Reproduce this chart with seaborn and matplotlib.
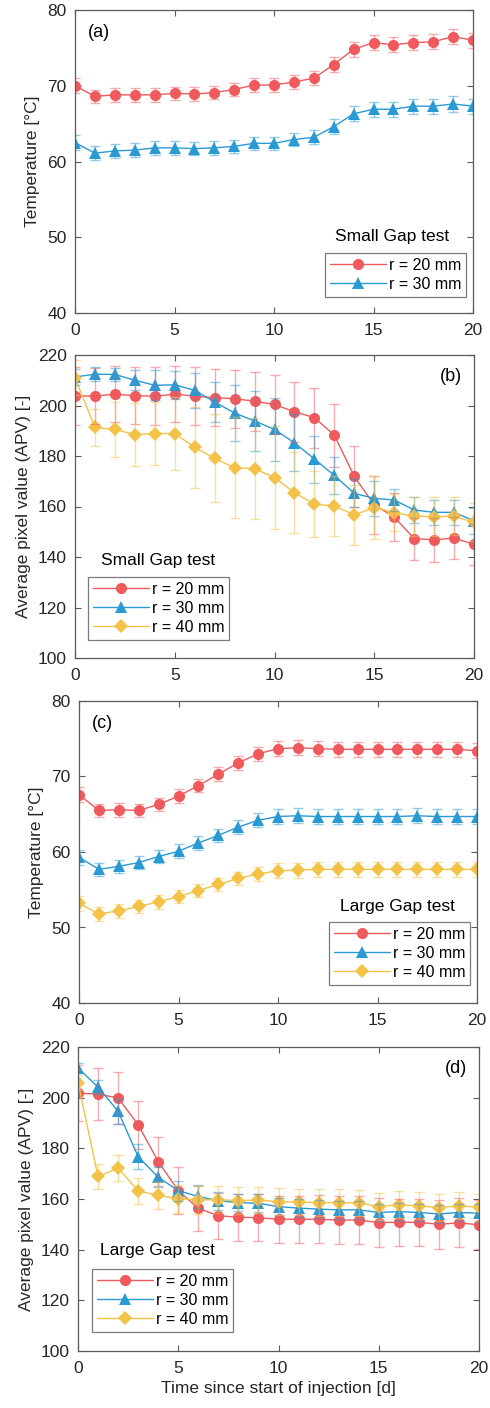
import pandas as pd
import matplotlib.pyplot as plt
import seaborn as sns

# ---- data ----
days = list(range(21))
series_names = ['r = 20 mm', 'r = 30 mm', 'r = 40 mm']

# (a) temperature, small gap test
a_r20 = [70.0, 68.6, 68.8, 68.8, 68.8, 69.0, 68.9, 69.1, 69.5, 70.1, 70.1,
         70.5, 71.0, 72.8, 74.8, 75.7, 75.4, 75.7, 75.8, 76.5, 76.0]
a_r20_err = [1.0, 0.9, 0.9, 0.9, 0.9, 0.9, 0.9, 0.9, 0.9, 0.9, 0.9,
             0.9, 0.9, 1.0, 1.0, 1.0, 1.0, 1.0, 1.0, 1.0, 1.0]
a_r30 = [62.5, 61.1, 61.4, 61.5, 61.8, 61.8, 61.7, 61.8, 62.0, 62.4, 62.4,
         62.9, 63.2, 64.6, 66.3, 66.9, 66.9, 67.3, 67.3, 67.6, 67.3]
a_r30_err = [1.0, 0.9, 0.9, 0.9, 0.9, 0.9, 0.9, 0.9, 0.9, 0.9, 0.9,
             0.9, 0.9, 1.0, 1.0, 1.0, 1.0, 1.0, 1.0, 1.0, 1.0]

# (b) average pixel value, small gap test
b_r20 = [203.8, 203.7, 204.5, 203.9, 203.7, 204.5, 203.7, 203.1, 202.7, 201.7, 200.4,
         197.5, 195.2, 188.2, 171.9, 160.6, 155.8, 147.3, 146.8, 147.5, 145.0]
b_r20_err = [11.4, 11.1, 11.1, 11.4, 11.5, 11.1, 11.4, 11.3, 11.5, 11.7, 11.8,
             11.8, 11.9, 12.5, 12.1, 11.4, 9.4, 8.3, 8.6, 8.3, 8.2]
b_r30 = [211.3, 212.4, 212.3, 210.0, 208.0, 208.2, 206.0, 201.4, 197.0, 193.9, 190.5,
         185.2, 178.8, 172.3, 165.2, 163.2, 162.6, 158.6, 157.7, 157.7, 154.3]
b_r30_err = [3.0, 2.7, 2.7, 4.0, 6.0, 5.6, 7.0, 8.0, 11.0, 12.0, 12.5,
             11.3, 9.3, 7.5, 5.5, 7.0, 4.5, 5.0, 5.0, 5.0, 5.0]
b_r40 = [211.0, 191.3, 190.5, 188.5, 188.9, 188.9, 183.4, 179.1, 175.3, 175.0, 171.4,
         165.5, 160.9, 160.2, 156.7, 159.6, 157.6, 156.1, 156.0, 156.1, 153.7]
b_r40_err = [7.0, 7.2, 10.9, 12.6, 12.4, 14.6, 16.0, 17.4, 20.0, 20.0, 20.3,
             16.0, 13.0, 12.0, 11.9, 12.6, 7.5, 7.6, 7.6, 7.5, 7.5]

# (c) temperature, large gap test
c_r20 = [67.6, 65.5, 65.6, 65.5, 66.3, 67.4, 68.8, 70.3, 71.8, 73.0, 73.7,
         73.8, 73.7, 73.6, 73.6, 73.6, 73.6, 73.6, 73.6, 73.6, 73.4]
c_r20_err = [1.0, 0.9, 0.9, 0.9, 0.9, 0.9, 0.9, 0.9, 0.9, 0.9, 1.0,
             1.0, 1.0, 1.0, 1.0, 1.0, 1.0, 1.0, 1.0, 1.0, 1.0]
c_r30 = [59.3, 57.7, 58.1, 58.6, 59.4, 60.1, 61.2, 62.2, 63.3, 64.2, 64.7,
         64.8, 64.7, 64.7, 64.7, 64.7, 64.7, 64.8, 64.7, 64.7, 64.7]
c_r30_err = [1.0, 0.9, 0.9, 0.9, 0.9, 0.9, 0.9, 0.9, 0.9, 0.9, 1.0,
             1.0, 1.0, 1.0, 1.0, 1.0, 1.0, 1.0, 1.0, 1.0, 1.0]
c_r40 = [53.2, 51.8, 52.2, 52.8, 53.4, 54.1, 54.9, 55.7, 56.5, 57.1, 57.5,
         57.6, 57.7, 57.7, 57.7, 57.7, 57.7, 57.7, 57.7, 57.7, 57.7]
c_r40_err = [1.0, 0.9, 0.9, 0.9, 0.9, 0.9, 0.9, 0.9, 0.9, 0.9, 1.0,
             1.0, 1.0, 1.0, 1.0, 1.0, 1.0, 1.0, 1.0, 1.0, 1.0]

# (d) average pixel value, large gap test
d_r20 = [201.8, 201.4, 199.9, 189.3, 174.8, 163.3, 156.3, 153.4, 152.8, 152.6, 152.0,
         152.0, 152.0, 151.7, 151.7, 150.7, 150.8, 150.8, 150.0, 150.6, 149.8]
d_r20_err = [11.2, 10.4, 10.1, 9.5, 9.6, 9.4, 9.0, 9.1, 9.3, 9.3, 9.2,
             9.2, 9.4, 9.4, 9.4, 9.5, 9.3, 9.3, 9.6, 9.6, 9.7]
d_r30 = [211.7, 204.2, 194.6, 176.7, 168.6, 163.3, 161.0, 159.3, 158.6, 158.3, 157.0,
         156.4, 156.0, 155.7, 155.7, 154.7, 155.0, 154.7, 154.1, 154.7, 154.4]
d_r30_err = [2.0, 2.8, 5.0, 5.0, 4.0, 4.0, 4.5, 3.5, 3.5, 3.5, 3.5,
             3.5, 3.5, 3.5, 3.5, 3.5, 3.5, 3.5, 3.5, 3.5, 3.5]
d_r40 = [205.9, 168.9, 172.2, 163.2, 161.4, 160.1, 159.7, 159.7, 159.4, 159.6, 158.9,
         158.8, 158.6, 158.6, 158.4, 157.0, 157.7, 157.3, 156.6, 157.3, 156.8]
d_r40_err = [3.0, 5.1, 5.0, 5.2, 5.2, 5.5, 5.5, 5.3, 5.3, 5.3, 5.3,
             5.3, 5.3, 5.3, 5.3, 5.3, 5.3, 5.3, 5.3, 5.3, 5.3]

colors = {'r = 20 mm': '#F05A5C', 'r = 30 mm': '#2A9AD4', 'r = 40 mm': '#F4C247'}
markers = {'r = 20 mm': 'o', 'r = 30 mm': '^', 'r = 40 mm': 'D'}

sns.set_theme(style='ticks')
plt.rcParams['font.family'] = ['Liberation Sans', 'DejaVu Sans']
plt.rcParams['axes.edgecolor'] = '#5a5a5a'
plt.rcParams['xtick.color'] = '#5a5a5a'
plt.rcParams['ytick.color'] = '#5a5a5a'
plt.rcParams['xtick.labelcolor'] = '#262626'
plt.rcParams['ytick.labelcolor'] = '#262626'

W, H = 490, 1408
fig = plt.figure(figsize=(W / 100, H / 100), dpi=100)


def add_axes_px(left, right, top, bottom):
    return fig.add_axes([left / W, (H - bottom) / H, (right - left) / W, (bottom - top) / H])


def draw_panel(ax, values, errors, ylim, yticks, ylabel, tag, tag_pos, leg_title,
               title_xy, leg_box):
    names = series_names[:len(values)]
    df = pd.DataFrame({
        'day': days * len(values),
        'value': sum(values, []),
        'series': [n for n in names for _ in days],
    })
    sns.lineplot(data=df, x='day', y='value', hue='series', style='series',
                 palette={n: colors[n] for n in names},
                 markers={n: markers[n] for n in names}, dashes=False,
                 linewidth=1.0, markersize=8, markeredgewidth=0, legend=False, ax=ax)
    handles = list(ax.lines[:len(names)])
    for line, n in zip(handles, names):
        line.set_label(n)
        if markers[n] == 'D':
            line.set_markersize(6.8)
    for n, v, e in zip(names, values, errors):
        ax.errorbar(days, v, yerr=e, fmt='none', ecolor=colors[n], alpha=0.5,
                    elinewidth=1.0, capsize=3.6, capthick=1.0)

    ax.set_xlim(0, 20)
    ax.set_ylim(*ylim)
    ax.set_xticks([0, 5, 10, 15, 20])
    ax.set_yticks(yticks)
    ax.tick_params(direction='in', length=4, width=0.8, top=True, right=True,
                   labelsize=12.5)
    ax.tick_params(axis='x', pad=7)
    ax.tick_params(axis='y', pad=6)
    for s in ax.spines.values():
        s.set_linewidth(0.9)
    ax.set_xlabel('')
    ax.set_ylabel(ylabel, fontsize=12.5, color='#262626', labelpad=5)

    ax.text(tag_pos[0], tag_pos[1], tag, transform=ax.transAxes, fontsize=13,
            ha=tag_pos[2], va='center', color='black')

    # legend title sits above the boxed entries
    bbox = ax.get_position()
    ax.text((title_xy[0] - bbox.x0 * W) / (bbox.width * W),
            ((H - title_xy[1]) - bbox.y0 * H) / (bbox.height * H),
            leg_title, transform=ax.transAxes, fontsize=12.5, ha='center',
            va='center', color='black')
    lx0, lx1, ly0, ly1 = leg_box
    leg = ax.legend(handles, names, loc='upper left',
                    bbox_to_anchor=((lx0 - bbox.x0 * W) / (bbox.width * W),
                                    ((H - ly0) - bbox.y0 * H) / (bbox.height * H)),
                    frameon=True, fancybox=False, handlelength=3.5, handletextpad=0.2,
                    borderpad=0.3, labelspacing=0.25, borderaxespad=0,
                    fontsize=11.5, edgecolor='#5a5a5a')
    leg.get_frame().set_linewidth(0.9)
    for t in leg.get_texts():
        t.set_color('black')


temp_label = 'Temperature [°C]'
apv_label = 'Average pixel value (APV) [-]'

ax_a = add_axes_px(75, 473, 10, 313)
draw_panel(ax_a, [a_r20, a_r30], [a_r20_err, a_r30_err], (40, 80), [40, 50, 60, 70, 80],
           temp_label, '(a)', (0.033, 0.927, 'left'), 'Small Gap test',
           (392, 237), (325, 461, 253, 299))

ax_b = add_axes_px(75, 474, 355, 658)
draw_panel(ax_b, [b_r20, b_r30, b_r40], [b_r20_err, b_r30_err, b_r40_err], (100, 220),
           [100, 120, 140, 160, 180, 200, 220], apv_label, '(b)', (0.97, 0.93, 'right'),
           'Small Gap test', (158, 560), (88, 224, 577, 644))

ax_c = add_axes_px(79, 477, 701, 1003)
draw_panel(ax_c, [c_r20, c_r30, c_r40], [c_r20_err, c_r30_err, c_r40_err], (40, 80),
           [40, 50, 60, 70, 80], temp_label, '(c)', (0.033, 0.927, 'left'),
           'Large Gap test', (397, 906), (329, 464, 922, 990))

ax_d = add_axes_px(78, 479, 1047, 1351)
draw_panel(ax_d, [d_r20, d_r30, d_r40], [d_r20_err, d_r30_err, d_r40_err], (100, 220),
           [100, 120, 140, 160, 180, 200, 220], apv_label, '(d)', (0.97, 0.93, 'right'),
           'Large Gap test', (157, 1251), (92, 228, 1269, 1337))
ax_d.set_xlabel('Time since start of injection [d]', fontsize=12.5, color='#262626',
                labelpad=4)

fig.savefig('out.png', dpi=100)
